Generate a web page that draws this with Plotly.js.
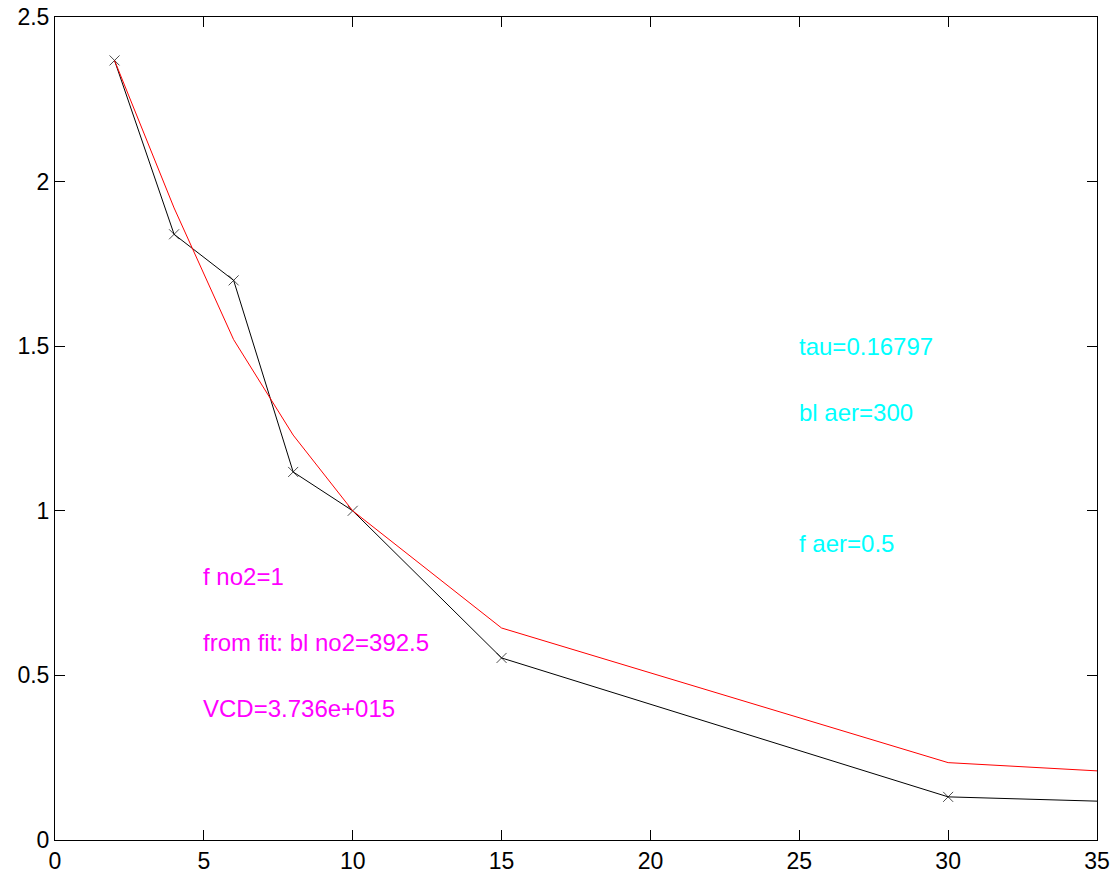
<!DOCTYPE html>
<html>
<head>
<meta charset="utf-8">
<script src="https://cdn.plot.ly/plotly-3.0.1.min.js"></script>
<style>html,body{margin:0;padding:0;background:#fff;}#chart{width:1115px;height:875px;}</style>
</head>
<body>
<div id="chart"></div>
<script>
// Measured (black, with x markers)
const xMeasured = [2, 4, 6, 8, 10, 15, 30, 35];
const yMeasured = [2.368, 1.84, 1.70, 1.118, 1.0, 0.553, 0.131, 0.118];
// Fitted (red)
const xFit = [2, 4, 6, 8, 10, 15, 30, 35];
const yFit = [2.368, 1.92, 1.52, 1.23, 1.0, 0.644, 0.235, 0.21];

// Text labels
const aerLabels = ["tau=0.16797", "bl aer=300", "f aer=0.5"];
const aerLabelY = [1.5, 1.3, 0.9];
const aerLabelX = 25;
const no2Labels = ["f no2=1", "from fit: bl no2=392.5", "VCD=3.736e+015"];
const no2LabelY = [0.8, 0.6, 0.4];
const no2LabelX = 5;

const FONT = "Arial, 'Liberation Sans', sans-serif";

const markerSizes = xMeasured.map((v, i) => (v < 35 ? 10 : 0));

const traces = [
  {
    x: xMeasured, y: yMeasured, type: "scatter", mode: "lines+markers",
    line: {color: "#000000", width: 1},
    marker: {symbol: "x-thin-open", size: markerSizes, color: "#000000", line: {color: "#000000", width: 1}},
    hoverinfo: "skip"
  },
  {
    x: xFit, y: yFit, type: "scatter", mode: "lines",
    line: {color: "#ff0000", width: 1},
    hoverinfo: "skip"
  }
];

const annotations = [];
aerLabels.forEach((t, i) => annotations.push({
  x: aerLabelX, y: aerLabelY[i], xref: "x", yref: "y", text: t, showarrow: false,
  xanchor: "left", yanchor: "middle", xshift: -2, font: {family: FONT, size: 24, color: "#00ffff"}
}));
no2Labels.forEach((t, i) => annotations.push({
  x: no2LabelX, y: no2LabelY[i], xref: "x", yref: "y", text: t, showarrow: false,
  xanchor: "left", yanchor: "middle", xshift: -3, font: {family: FONT, size: 24, color: "#ff00ff"}
}));

const axisCommon = {
  showline: true, mirror: "ticks", linecolor: "#000000", linewidth: 1,
  ticks: "inside", ticklen: 10, tickwidth: 1, tickcolor: "#000000",
  showgrid: false, zeroline: false,
  tickfont: {family: FONT, size: 23, color: "#000000"}
};

const layout = {
  width: 1115, height: 875,
  margin: {l: 55, r: 18, t: 17, b: 35},
  paper_bgcolor: "#ffffff", plot_bgcolor: "#ffffff",
  showlegend: false,
  font: {family: FONT},
  xaxis: Object.assign({}, axisCommon, {range: [0, 35], tickmode: "linear", tick0: 0, dtick: 5, ticklabelstandoff: 0}),
  yaxis: Object.assign({}, axisCommon, {range: [0, 2.5], tickmode: "linear", tick0: 0, dtick: 0.5}),
  annotations: annotations
};

Plotly.newPlot("chart", traces, layout, {displayModeBar: false, staticPlot: true});
</script>
</body>
</html>
